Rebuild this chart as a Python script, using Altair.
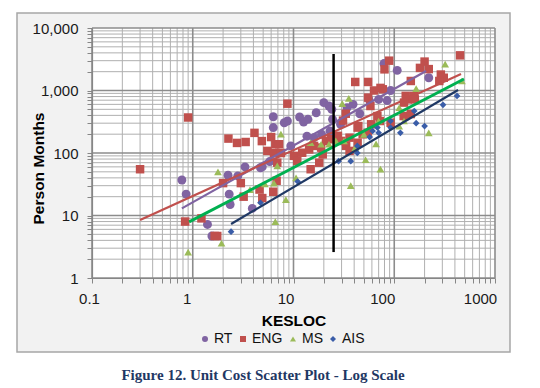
import altair as alt
import pandas as pd

# ---------------- data ----------------
series_names = ["RT", "ENG", "MS", "AIS"]

rt_kesloc = [0.78, 0.86, 1.4, 1.55, 2.24, 2.8, 2.3, 2.35, 3.3, 3.9, 4.7, 4.9, 5.8, 6.3, 6.3,
             8.1, 8.7, 9.4, 11.5, 12.6, 13.9, 16.8, 20, 22.5, 24, 24.4, 29.3, 13.6, 16, 19,
             23, 34, 39, 45.5, 56, 70, 85, 92, 79, 107, 220]
rt_pm = [37, 22, 7.2, 4.7, 44, 43, 22, 15, 60, 13, 58, 60, 73, 380, 255,
         305, 325, 130, 377, 313, 346, 440, 640, 565, 500, 346, 288, 186, 176, 199,
         225, 530, 600, 425, 720, 720, 690, 1000, 2700, 2100, 1600]

eng_kesloc = [0.3, 0.9, 0.84, 1.22, 1.65, 1.75, 2.0, 3.0, 3.2, 4.6, 4.9, 6.3, 6.8, 2.26, 2.75,
              3.35, 4.1, 4.85, 6.0, 5.5, 6.6, 6.4, 6.9, 7.5, 7.2, 8.7, 10.1, 10.9, 12.2, 14.3,
              16, 18.8, 19.5, 18, 14.8, 21, 23.7, 27.6, 29.7, 36, 33.3, 36, 43.3, 48.6, 43.3,
              54.6, 59, 33, 31, 44, 41, 55, 55, 58, 68, 73, 63, 77, 89, 80,
              146, 180, 200, 220, 290, 310, 280, 450, 158, 136, 124, 146, 130, 125, 160,
              72, 92]
eng_pm = [55, 370, 8, 9, 4.7, 4.7, 33, 33, 20, 26, 19, 24, 36, 170, 145,
          150, 210, 155, 180, 108, 138, 100, 70, 100, 138, 615, 90, 75, 101, 114,
          130, 122, 95, 70, 55, 156, 166, 188, 156, 176, 130, 108, 255, 199, 146,
          211, 288, 425, 330, 270, 1370, 1370, 770, 565, 390, 1100, 1000, 1045, 3000, 2180,
          1420, 2300, 2900, 2200, 1800, 1600, 1420, 3650, 820, 720, 390, 420, 820, 640, 720,
          325, 305]

ms_kesloc = [0.9, 1.78, 1.93, 6.6, 3.7, 5.2, 6.4, 6.9, 7.5, 8.4, 10.6, 14.8, 18.8, 22.5, 26.3,
             31.7, 30.5, 35.4, 37, 52, 73, 66, 50, 70, 41, 112, 112, 165, 125, 220, 320, 470]
ms_pm = [2.6, 50, 3.6, 8, 26, 32, 33, 62, 200, 18, 40, 146, 138, 138, 156,
         156, 615, 750, 30, 78, 55, 140, 199, 325, 122, 270, 530, 1070, 325, 210, 2650, 1420]

ais_kesloc = [2.4, 4.7, 11, 28, 37, 43, 43, 57, 61, 68, 70, 92, 92, 115, 158, 165, 200, 305, 420]
ais_pm = [5.5, 16, 35, 74, 74, 100, 130, 180, 225, 255, 210, 325, 255, 210, 470, 300, 270, 590, 820]

# trend lines (start / end points)
trend_x_start = [0.78, 0.30, 0.92, 2.4]
trend_y_start = [13, 8.5, 7.9, 7.3]
trend_x_end = [207, 460, 492, 430]
trend_y_end = [2050, 1836, 1528, 1018]

# vertical divider
divider_kesloc = [25]
divider_pm_low = [2.6]
divider_pm_high = [3840]

x_decades = [0.1, 1, 10, 100, 1000]
y_decades = [1, 10, 100, 1000, 10000]

caption = "Figure 12. Unit Cost Scatter Plot - Log Scale"

# ---------------- styles ----------------
marker_colors = ["#8064A2", "#C0504D", "#9BBB59", "#3A5DA8"]
marker_shapes = ["circle", "square", "triangle-up", "diamond"]
marker_sizes = [80, 72, 60, 45]
trend_colors = ["#8064A2", "#C0504D", "#00B050", "#1F3864"]
trend_widths = [2.2, 2.2, 3, 2.2]

W, H = 403, 250

# ---------------- tables ----------------
x_minor = [m * d for d in x_decades[:-1] for m in range(2, 10)]
y_minor = [m * d for d in y_decades[:-1] for m in range(2, 10)]
x_ticks = sorted(x_decades + x_minor)
y_ticks = sorted(y_decades + y_minor)

frames = []
for name, xs, ys, sz in zip(series_names,
                            [rt_kesloc, eng_kesloc, ms_kesloc, ais_kesloc],
                            [rt_pm, eng_pm, ms_pm, ais_pm], marker_sizes):
    frames.append(pd.DataFrame({"series": name, "kesloc": xs, "pm": ys, "sz": sz}))
points_df = pd.concat(frames, ignore_index=True)

trend_df = pd.DataFrame({"series": series_names, "x0": trend_x_start, "y0": trend_y_start,
                         "x1": trend_x_end, "y1": trend_y_end,
                         "col": trend_colors, "w": trend_widths})
divider_df = pd.DataFrame({"kesloc": divider_kesloc, "lo": divider_pm_low, "hi": divider_pm_high})

xscale = alt.Scale(type="log", domain=[0.1, 1000], nice=False)
yscale = alt.Scale(type="log", domain=[1, 10000], nice=False)

x_axis = alt.Axis(values=x_ticks, format="~g",
                  labelExpr="indexof([0.1,1,10,100,1000], datum.value) >= 0 ? datum.label : ''",
                  labelOffset={"condition": [
                      {"test": "datum.value == 1", "value": -6},
                      {"test": "datum.value == 10", "value": -8},
                      {"test": "datum.value == 100", "value": -12},
                      {"test": "datum.value == 1000", "value": -15}], "value": -3},
                  title="KESLOC", grid=False, tickSize=5, labelPadding=20,
                  labelBaseline="alphabetic", labelOverlap=False, labelFlush=False,
                  titleY=47, titleBaseline="alphabetic", zindex=1)
y_axis = alt.Axis(values=y_ticks, format=",",
                  labelExpr="indexof([1,10,100,1000,10000], datum.value) >= 0 ? datum.label : ''",
                  title="Person Months", grid=False, tickSize=5, labelPadding=9,
                  labelOverlap=False, labelFlush=False,
                  titleX=-46, titleY=140, zindex=1)

one = pd.DataFrame({"k": [0]})

frame = alt.Chart(one).mark_rect(fill="#F2F2F2", stroke="#A6A6A6", strokeWidth=1.5).encode(
    x=alt.value(-75), x2=alt.value(418), y=alt.value(-15), y2=alt.value(324))
plot_bg = alt.Chart(one).mark_rect(fill="white").encode(
    x=alt.value(0), x2=alt.value(W), y=alt.value(0), y2=alt.value(H))

gx_minor = alt.Chart(pd.DataFrame({"v": x_minor})).mark_rule(color="#B0B0B0", strokeWidth=1).encode(
    x=alt.X("v:Q", scale=xscale, axis=x_axis))
gy_minor = alt.Chart(pd.DataFrame({"v": y_minor})).mark_rule(color="#B0B0B0", strokeWidth=1).encode(
    y=alt.Y("v:Q", scale=yscale, axis=y_axis))
gx_major = alt.Chart(pd.DataFrame({"v": x_decades})).mark_rule(color="#8C8C8C", strokeWidth=1.6).encode(
    x=alt.X("v:Q", scale=xscale, axis=x_axis))
gy_major = alt.Chart(pd.DataFrame({"v": y_decades})).mark_rule(color="#8C8C8C", strokeWidth=1.6).encode(
    y=alt.Y("v:Q", scale=yscale, axis=y_axis))

legend = alt.Legend(title=None, orient="none", legendX=106, legendY=304, direction="horizontal",
                    labelFont="Liberation Sans", labelFontSize=14, labelColor="#111111",
                    symbolSize=36, labelOffset=2, columnPadding=3, padding=0)

points = alt.Chart(points_df).mark_point(filled=True, opacity=1).encode(
    x=alt.X("kesloc:Q", scale=xscale, axis=x_axis),
    y=alt.Y("pm:Q", scale=yscale, axis=y_axis),
    color=alt.Color("series:N", scale=alt.Scale(domain=series_names, range=marker_colors),
                    legend=legend, sort=series_names),
    shape=alt.Shape("series:N", scale=alt.Scale(domain=series_names, range=marker_shapes),
                    legend=legend, sort=series_names),
    size=alt.Size("sz:Q", scale=None),
)

trends = alt.Chart(trend_df).mark_rule().encode(
    x=alt.X("x0:Q", scale=xscale, axis=x_axis), x2="x1:Q",
    y=alt.Y("y0:Q", scale=yscale, axis=y_axis), y2="y1:Q",
    stroke=alt.Stroke("col:N", scale=None),
    strokeWidth=alt.StrokeWidth("w:Q", scale=None),
)

divider = alt.Chart(divider_df).mark_rule(color="black", strokeWidth=2.5).encode(
    x=alt.X("kesloc:Q", scale=xscale, axis=x_axis),
    y=alt.Y("lo:Q", scale=yscale, axis=y_axis), y2="hi:Q")

cap = alt.Chart(pd.DataFrame({"t": [caption]})).mark_text(
    font="Liberation Serif", fontWeight="bold", fontSize=15, color="#1F3864",
    align="center", baseline="middle").encode(
    text="t:N", x=alt.value(171), y=alt.value(347))

chart = alt.layer(frame, plot_bg, gx_minor, gy_minor, gx_major, gy_major,
                  points, trends, divider, cap).properties(
    width=W, height=H,
    padding={"left": 8, "top": 4, "right": 0, "bottom": 0},
    background="white",
).configure_view(stroke=None).configure_axis(
    domainColor="#868686", tickColor="#868686", domainWidth=1.2,
    labelFont="Liberation Sans", labelFontSize=15, labelColor="#1a1a1a",
    titleFont="Liberation Sans", titleFontSize=15.5, titleFontWeight="bold", titleColor="#000000",
)

chart.save("out.html", embed_options={"renderer": "svg", "actions": False})
